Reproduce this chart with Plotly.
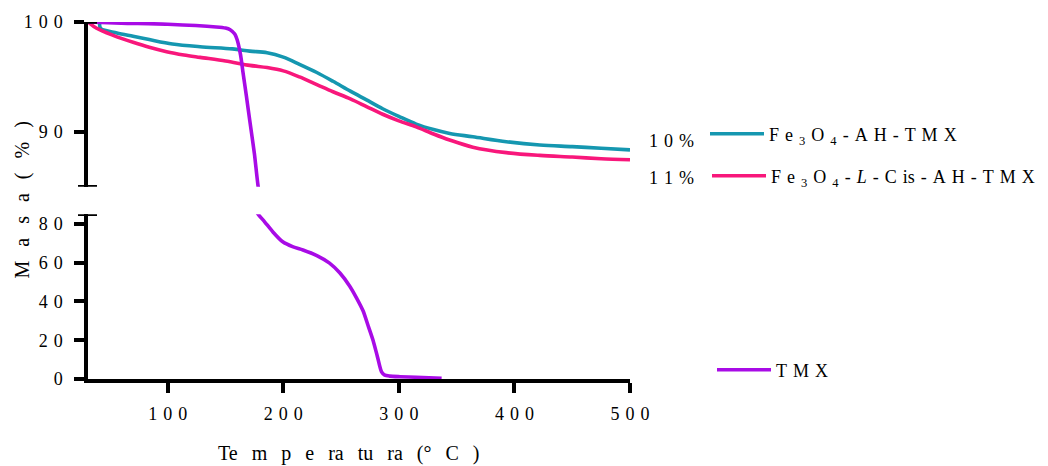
import plotly.graph_objects as go

# Thermogravimetric curves: temperature (°C) and residual mass (%)
temp_fe3o4_ah = [41, 42, 56, 70, 84, 104, 128, 156, 171, 186, 200, 214, 229, 243,
                 258, 272, 286, 300, 315, 330, 344, 364, 393, 422, 450, 475, 500]
mass_fe3o4_ah = [99.9, 99.4, 99.0, 98.7, 98.4, 98.0, 97.75, 97.55, 97.35, 97.2, 96.8,
                 96.15, 95.4, 94.6, 93.7, 92.9, 92.1, 91.4, 90.7, 90.2, 89.85, 89.55,
                 89.1, 88.8, 88.65, 88.5, 88.35]

temp_fe3o4_lcis = [31, 36, 41, 56, 70, 84, 99, 114, 128, 150, 171, 186, 200, 214, 229,
                   243, 258, 272, 286, 300, 315, 330, 344, 364, 393, 422, 450, 475, 500]
mass_fe3o4_lcis = [100, 99.6, 99.3, 98.65, 98.15, 97.7, 97.3, 97.0, 96.78, 96.45,
                   96.05, 95.85, 95.55, 95.0, 94.3, 93.65, 93.0, 92.3, 91.6, 91.0,
                   90.45, 89.8, 89.25, 88.6, 88.1, 87.85, 87.7, 87.55, 87.45]

temp_tmx = [31, 60, 100, 142, 150, 154, 158, 160, 163, 165, 168, 171, 175, 178, 184,
            191, 199.5, 208, 217, 229, 240, 249, 257.5, 263.3, 269, 273.4, 277.7,
            281.5, 285, 287.8, 292, 301, 315, 337]
mass_tmx = [100, 99.9, 99.8, 99.55, 99.45, 99.3, 98.9, 98.4, 97.0, 95.5, 93.3, 91.0,
            88.0, 85.2, 81.0, 75.9, 70.8, 68.3, 66.6, 63.7, 59.8, 54.7, 47.9, 41.9,
            35.2, 27.5, 19.9, 11.4, 3.7, 2.0, 1.5, 1.2, 0.9, 0.4]

series_names = [
    "F e <sub>3</sub> O <sub>4</sub> - A H - T M X",
    "F e <sub>3</sub> O <sub>4</sub> - <i>L</i> - C is - A H - T M X",
    "T M X",
]
series_colors = ["#1597b0", "#f8177b", "#a80be6"]
series_smoothing = [0.9, 0.9, 0.7]
mass_loss_labels = ["10%", "11%"]

x_ticks = [100, 200, 300, 400, 500]
y_ticks_low = [0, 20, 40, 60, 80]
y_ticks_high = [90, 100]
x_range = [31, 500]
y_range_low = [0, 85]
y_range_high = [85, 100]

FONT = "Liberation Serif, Times New Roman, serif"
TRACK = "\u2004"          # letter tracking for short labels
WIDE = "\u2002\u2009"     # wider tracking for the axis titles


def tracked(text, gap=TRACK):
    return gap.join(text.replace(" ", ""))


def markup(name):
    return name.replace(" ", TRACK)


fig = go.Figure()

legends = ["legend", "legend2", "legend3"]
data = [(temp_fe3o4_ah, mass_fe3o4_ah), (temp_fe3o4_lcis, mass_fe3o4_lcis),
        (temp_tmx, mass_tmx)]

for (t, m), name, color, sm, leg in zip(data, series_names, series_colors,
                                         series_smoothing, legends):
    line = dict(color=color, width=3.6, shape="spline", smoothing=sm)
    # lower panel (0-85 %)
    fig.add_trace(go.Scatter(x=t, y=m, mode="lines", name=markup(name), line=line,
                             xaxis="x", yaxis="y", legend=leg, showlegend=True))
    # upper panel (85-100 %)
    fig.add_trace(go.Scatter(x=t, y=m, mode="lines", name=markup(name), line=line,
                             xaxis="x2", yaxis="y2", showlegend=False))

W, H = 1048, 466
ML, MR, MT, MB = 88, 418, 17, 87
PW = W - ML - MR
PH = H - MT - MB
gap_px = 28
panel = (PH - gap_px) / 2

axis_common = dict(showline=True, linewidth=3.5, linecolor="black", ticks="outside",
                   ticklen=10, tickwidth=3.5, tickcolor="black", showgrid=False,
                   zeroline=False, tickfont=dict(family=FONT, size=18, color="black"))

fig.update_layout(
    width=W, height=H,
    margin=dict(l=ML, r=MR, t=MT, b=MB),
    paper_bgcolor="white", plot_bgcolor="white",
    font=dict(family=FONT, size=18, color="black"),
    xaxis=dict(range=x_range, tickvals=x_ticks, ticktext=[tracked(str(v)) for v in x_ticks],
               anchor="y", ticklabelstandoff=6, **axis_common),
    xaxis2=dict(range=x_range, matches="x", anchor="y2", visible=False),
    yaxis=dict(range=y_range_low, domain=[0, panel / PH], tickvals=y_ticks_low,
               ticktext=[tracked(str(v)) for v in y_ticks_low], anchor="x",
               ticklabelstandoff=8, **axis_common),
    yaxis2=dict(range=y_range_high, domain=[1 - panel / PH, 1], tickvals=y_ticks_high,
                ticktext=[tracked(str(v)) for v in y_ticks_high], anchor="x2",
                ticklabelstandoff=8, **axis_common),
)

legend_style = dict(xref="container", yref="container", xanchor="left", yanchor="middle",
                    bgcolor="rgba(0,0,0,0)", borderwidth=0, itemwidth=54,
                    font=dict(family=FONT, size=18, color="black"))
fig.update_layout(
    legend=dict(x=705 / W, y=1 - 134 / H, **legend_style),
    legend2=dict(x=707 / W, y=1 - 176 / H, **legend_style),
    legend3=dict(x=712 / W, y=1 - 370 / H, **legend_style),
)

# axis break caps
cap_l, cap_r = -10 / PW, 9 / PW
cap_line = dict(color="black", width=3.5)
fig.add_shape(type="line", xref="paper", yref="y", x0=cap_l, x1=cap_r,
              y0=y_range_low[1], y1=y_range_low[1], line=cap_line)
fig.add_shape(type="line", xref="paper", yref="y2", x0=cap_l, x1=cap_r,
              y0=y_range_high[0], y1=y_range_high[0], line=cap_line)
fig.add_shape(type="line", xref="paper", yref="y2", x0=0, x1=cap_r,
              y0=y_range_high[1], y1=y_range_high[1], line=cap_line)

# mass-loss labels beside the legend entries
for label, ypx in zip(mass_loss_labels, [138, 175]):
    fig.add_annotation(text=tracked(label), xref="paper", yref="paper",
                       x=(696 - ML) / PW, y=(H - MB - ypx) / PH,
                       xanchor="right", yanchor="middle", showarrow=False,
                       font=dict(family=FONT, size=18, color="black"))

# axis titles
fig.add_annotation(text=WIDE.join(["Te", "m", "p", "e", "ra", "tu", "ra", "(°", "C", ")"]),
                   xref="paper", yref="paper", x=(348 - ML) / PW, y=(H - MB - 455) / PH,
                   xanchor="center", yanchor="middle", showarrow=False,
                   font=dict(family=FONT, size=20, color="black"))
fig.add_annotation(text=WIDE.join(["M", "a", "s", "a", "(", "%", ")"]),
                   xref="paper", yref="paper", x=(22 - ML) / PW, y=0.5,
                   xanchor="center", yanchor="middle", textangle=-90, showarrow=False,
                   font=dict(family=FONT, size=20, color="black"))

fig.write_html("out.html")
